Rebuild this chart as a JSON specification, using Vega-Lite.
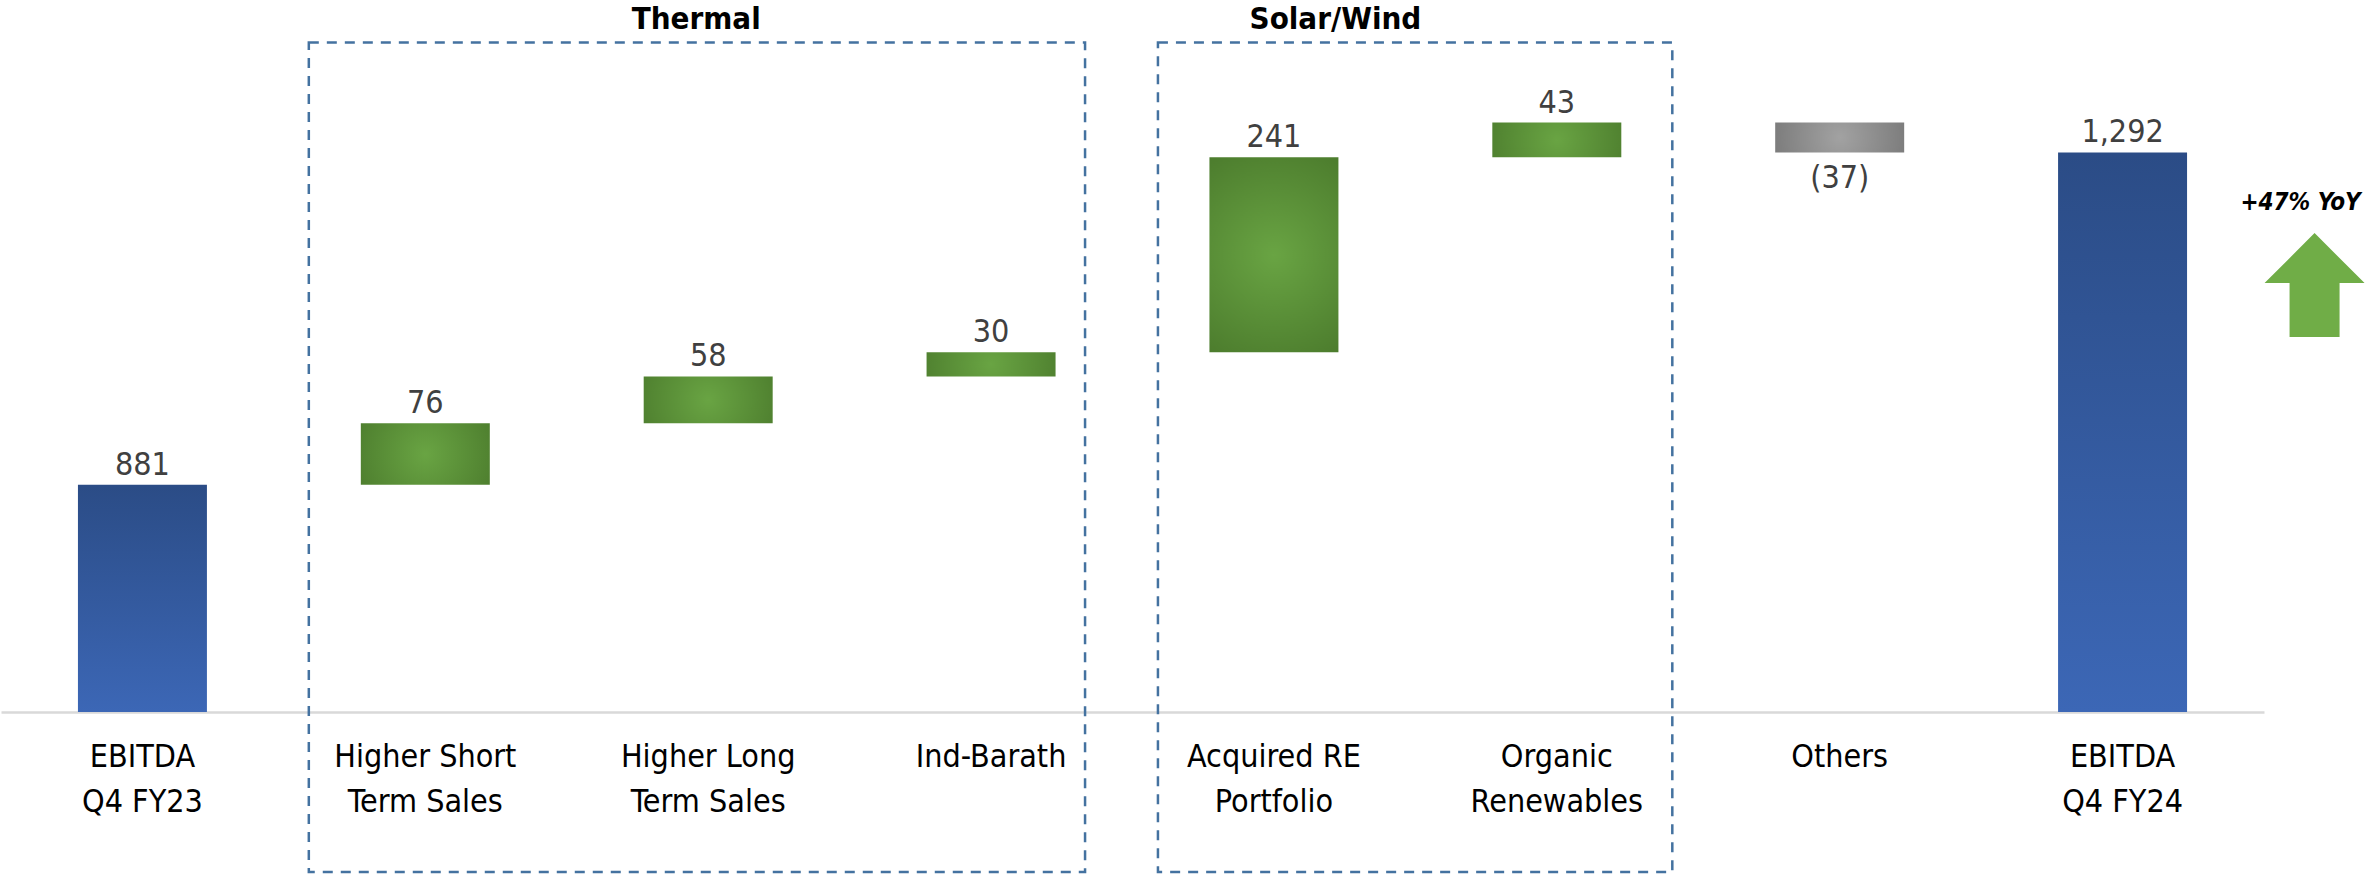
{
  "$schema": "https://vega.github.io/schema/vega-lite/v6.json",
  "width": 2263,
  "height": 712,
  "autosize": "none",
  "padding": {"left": 1, "top": 0, "right": 103, "bottom": 163},
  "background": "white",
  "config": {
    "view": {"stroke": null},
    "axisX": {"title": null, "domainColor": "#d9d9d9", "domainWidth": 2.5, "ticks": false, "tickSize": 0, "labelPadding": 29, "labelFontSize": 32, "labelColor": "#000000", "labelFont": "DejaVu Sans Condensed, Liberation Sans Narrow, sans-serif", "labelLineHeight": 45, "labelAngle": 0, "labelLimit": 0, "labelOverlap": false, "grid": false}
  },
  "datasets": {
    "bars": [
      {"category": "EBITDA\nQ4 FY23", "amount": 881, "start": 0, "end": 881, "kind": "total", "label": "881"},
      {"category": "Higher Short\nTerm Sales", "amount": 76, "start": 881, "end": 957, "kind": "increase", "label": "76"},
      {"category": "Higher Long\nTerm Sales", "amount": 58, "start": 957, "end": 1015, "kind": "increase", "label": "58"},
      {"category": "Ind-Barath", "amount": 30, "start": 1015, "end": 1045, "kind": "increase", "label": "30"},
      {"category": "Acquired RE\nPortfolio", "amount": 241, "start": 1045, "end": 1286, "kind": "increase", "label": "241"},
      {"category": "Organic\nRenewables", "amount": 43, "start": 1286, "end": 1329, "kind": "increase", "label": "43"},
      {"category": "Others", "amount": -37, "start": 1329, "end": 1292, "kind": "decrease", "label": "(37)"},
      {"category": "EBITDA\nQ4 FY24", "amount": 1292, "start": 0, "end": 1292, "kind": "total", "label": "1,292"}
    ],
    "groups": [
      {"group": "Thermal", "first": "Higher Short\nTerm Sales", "last": "Ind-Barath", "anchor": "Higher Long\nTerm Sales"},
      {"group": "Solar/Wind", "first": "Acquired RE\nPortfolio", "last": "Organic\nRenewables", "anchor": "Acquired RE\nPortfolio"}
    ],
    "notes": [
      {"category": "EBITDA\nQ4 FY24", "note": "+47% YoY"}
    ]
  },
  "layer": [
    {
      "data": {"name": "bars"},
      "mark": {"type": "bar"},
      "encoding": {
        "x": {"field": "category", "type": "nominal", "sort": null,
              "scale": {"domain": ["EBITDA\nQ4 FY23", "Higher Short\nTerm Sales", "Higher Long\nTerm Sales", "Ind-Barath", "Acquired RE\nPortfolio", "Organic\nRenewables", "Others", "EBITDA\nQ4 FY24"], "paddingInner": 0.544, "paddingOuter": 0.272},
              "axis": {"title": null, "labelExpr": "split(datum.label, '\\n')"}},
        "y": {"field": "start", "type": "quantitative", "scale": {"domain": [600, 1480.6], "clamp": true, "nice": false, "zero": false}, "axis": null},
        "y2": {"field": "end"},
        "fill": {
          "condition": [
            {"test": "datum.kind === 'total'", "value": {"gradient": "linear", "x1": 0, "y1": 0, "x2": 0, "y2": 1, "stops": [{"offset": 0, "color": "#2b4c86"}, {"offset": 1, "color": "#3c67b6"}]}},
            {"test": "datum.kind === 'decrease'", "value": {"gradient": "radial", "x1": 0.5, "y1": 0.5, "r1": 0, "x2": 0.5, "y2": 0.5, "r2": 0.6, "stops": [{"offset": 0, "color": "#a2a2a2"}, {"offset": 1, "color": "#767676"}]}}
          ],
          "value": {"gradient": "radial", "x1": 0.5, "y1": 0.5, "r1": 0, "x2": 0.5, "y2": 0.5, "r2": 0.6, "stops": [{"offset": 0, "color": "#69a443"}, {"offset": 1, "color": "#4c7c2d"}]}
        }
      }
    },
    {
      "data": {"name": "groups"},
      "transform": [{"filter": "datum.group === 'Thermal'"}],
      "mark": {"type": "rect", "filled": false, "stroke": "#4472a0", "strokeWidth": 2.5, "strokeDash": [10, 8], "xOffset": -52, "x2Offset": 29.5, "y2Offset": 160},
      "encoding": {
        "x": {"field": "first", "type": "nominal", "bandPosition": 0,
              "scale": {"domain": ["EBITDA\nQ4 FY23", "Higher Short\nTerm Sales", "Higher Long\nTerm Sales", "Ind-Barath", "Acquired RE\nPortfolio", "Organic\nRenewables", "Others", "EBITDA\nQ4 FY24"], "paddingInner": 0.544, "paddingOuter": 0.272},
              "axis": {"title": null, "labelExpr": "split(datum.label, '\\n')"}},
        "x2": {"field": "last", "bandPosition": 1},
        "y": {"datum": 1428, "type": "quantitative"},
        "y2": {"datum": 600}
      }
    },
    {
      "data": {"name": "groups"},
      "transform": [{"filter": "datum.group === 'Solar/Wind'"}],
      "mark": {"type": "rect", "filled": false, "stroke": "#4472a0", "strokeWidth": 2.5, "strokeDash": [10, 8], "xOffset": -51.5, "x2Offset": 51, "y2Offset": 160},
      "encoding": {
        "x": {"field": "first", "type": "nominal", "bandPosition": 0,
              "scale": {"domain": ["EBITDA\nQ4 FY23", "Higher Short\nTerm Sales", "Higher Long\nTerm Sales", "Ind-Barath", "Acquired RE\nPortfolio", "Organic\nRenewables", "Others", "EBITDA\nQ4 FY24"], "paddingInner": 0.544, "paddingOuter": 0.272},
              "axis": {"title": null, "labelExpr": "split(datum.label, '\\n')"}},
        "x2": {"field": "last", "bandPosition": 1},
        "y": {"datum": 1428, "type": "quantitative"},
        "y2": {"datum": 600}
      }
    },
    {
      "data": {"name": "bars"},
      "transform": [{"filter": "datum.kind !== 'decrease'"}],
      "mark": {"type": "text", "baseline": "alphabetic", "align": "center", "dy": -10, "fontSize": 32, "color": "#404040", "font": "DejaVu Sans Condensed, Liberation Sans Narrow, sans-serif"},
      "encoding": {
        "x": {"field": "category", "type": "nominal",
              "scale": {"domain": ["EBITDA\nQ4 FY23", "Higher Short\nTerm Sales", "Higher Long\nTerm Sales", "Ind-Barath", "Acquired RE\nPortfolio", "Organic\nRenewables", "Others", "EBITDA\nQ4 FY24"], "paddingInner": 0.544, "paddingOuter": 0.272},
              "axis": {"title": null, "labelExpr": "split(datum.label, '\\n')"}},
        "y": {"field": "end", "type": "quantitative"},
        "text": {"field": "label"}
      }
    },
    {
      "data": {"name": "bars"},
      "transform": [{"filter": "datum.kind === 'decrease'"}],
      "mark": {"type": "text", "baseline": "top", "align": "center", "dy": 11, "fontSize": 32, "color": "#404040", "font": "DejaVu Sans Condensed, Liberation Sans Narrow, sans-serif"},
      "encoding": {
        "x": {"field": "category", "type": "nominal",
              "scale": {"domain": ["EBITDA\nQ4 FY23", "Higher Short\nTerm Sales", "Higher Long\nTerm Sales", "Ind-Barath", "Acquired RE\nPortfolio", "Organic\nRenewables", "Others", "EBITDA\nQ4 FY24"], "paddingInner": 0.544, "paddingOuter": 0.272},
              "axis": {"title": null, "labelExpr": "split(datum.label, '\\n')"}},
        "y": {"field": "end", "type": "quantitative"},
        "text": {"field": "label"}
      }
    },
    {
      "data": {"name": "groups"},
      "transform": [{"filter": "datum.group === 'Thermal'"}],
      "mark": {"type": "text", "baseline": "alphabetic", "align": "center", "xOffset": -12, "fontSize": 31, "fontWeight": "bold", "color": "#000000", "font": "DejaVu Sans Condensed, Liberation Sans Narrow, sans-serif"},
      "encoding": {
        "x": {"field": "anchor", "type": "nominal",
              "scale": {"domain": ["EBITDA\nQ4 FY23", "Higher Short\nTerm Sales", "Higher Long\nTerm Sales", "Ind-Barath", "Acquired RE\nPortfolio", "Organic\nRenewables", "Others", "EBITDA\nQ4 FY24"], "paddingInner": 0.544, "paddingOuter": 0.272},
              "axis": {"title": null, "labelExpr": "split(datum.label, '\\n')"}},
        "y": {"datum": 1444.8, "type": "quantitative"},
        "text": {"field": "group"}
      }
    },
    {
      "data": {"name": "groups"},
      "transform": [{"filter": "datum.group === 'Solar/Wind'"}],
      "mark": {"type": "text", "baseline": "alphabetic", "align": "center", "xOffset": -3, "fontSize": 31, "fontWeight": "bold", "color": "#000000", "font": "DejaVu Sans Condensed, Liberation Sans Narrow, sans-serif"},
      "encoding": {
        "x": {"field": "anchor", "type": "nominal", "bandPosition": 1,
              "scale": {"domain": ["EBITDA\nQ4 FY23", "Higher Short\nTerm Sales", "Higher Long\nTerm Sales", "Ind-Barath", "Acquired RE\nPortfolio", "Organic\nRenewables", "Others", "EBITDA\nQ4 FY24"], "paddingInner": 0.544, "paddingOuter": 0.272},
              "axis": {"title": null, "labelExpr": "split(datum.label, '\\n')"}},
        "y": {"datum": 1444.8, "type": "quantitative"},
        "text": {"field": "group"}
      }
    },
    {
      "data": {"name": "notes"},
      "mark": {"type": "text", "baseline": "alphabetic", "align": "center", "xOffset": 178, "fontSize": 24, "fontWeight": "bold", "fontStyle": "italic", "color": "#000000", "font": "DejaVu Sans Condensed, Liberation Sans Narrow, sans-serif"},
      "encoding": {
        "x": {"field": "category", "type": "nominal",
              "scale": {"domain": ["EBITDA\nQ4 FY23", "Higher Short\nTerm Sales", "Higher Long\nTerm Sales", "Ind-Barath", "Acquired RE\nPortfolio", "Organic\nRenewables", "Others", "EBITDA\nQ4 FY24"], "paddingInner": 0.544, "paddingOuter": 0.272},
              "axis": {"title": null, "labelExpr": "split(datum.label, '\\n')"}},
        "y": {"datum": 1221, "type": "quantitative"},
        "text": {"field": "note"}
      }
    },
    {
      "data": {"name": "notes"},
      "mark": {"type": "point", "filled": true, "fill": "#70ad47", "fillOpacity": 1, "strokeWidth": 0, "size": 10000, "xOffset": 192, "shape": "M0,-1.04 L1,-0.04 L0.5,-0.04 L0.5,1.04 L-0.5,1.04 L-0.5,-0.04 L-1,-0.04 Z"},
      "encoding": {
        "x": {"field": "category", "type": "nominal",
              "scale": {"domain": ["EBITDA\nQ4 FY23", "Higher Short\nTerm Sales", "Higher Long\nTerm Sales", "Ind-Barath", "Acquired RE\nPortfolio", "Organic\nRenewables", "Others", "EBITDA\nQ4 FY24"], "paddingInner": 0.544, "paddingOuter": 0.272},
              "axis": {"title": null, "labelExpr": "split(datum.label, '\\n')"}},
        "y": {"datum": 1128, "type": "quantitative"}
      }
    }
  ],
  "resolve": {"axis": {"y": "shared"}},
  "encoding": {}
}
